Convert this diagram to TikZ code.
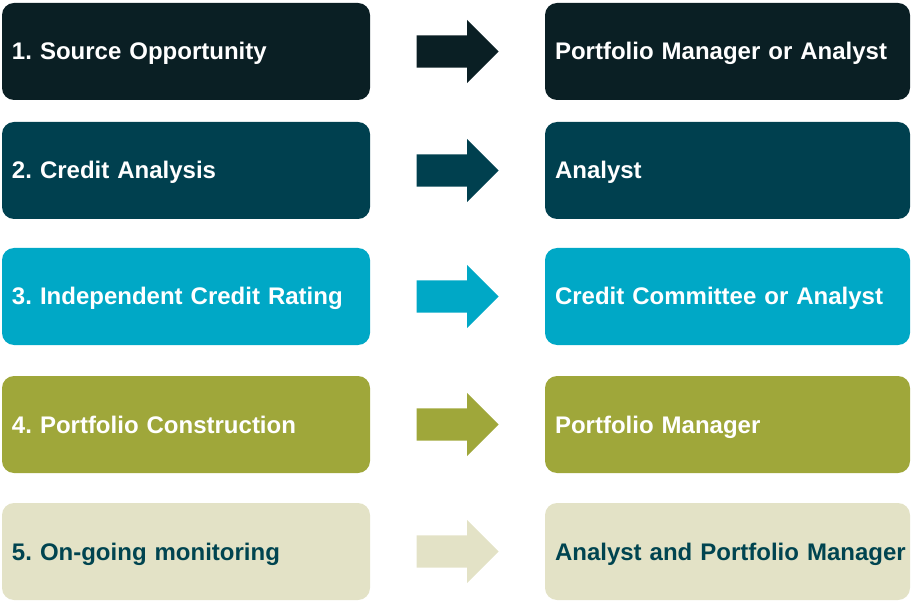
\documentclass[tikz,border=0pt]{standalone}
\usepackage{fontspec}
\setmainfont{Liberation Sans}
\usepackage{tikz}
\usetikzlibrary{shapes.arrows,calc}

\definecolor{rowone}{HTML}{0A1F24}
\definecolor{rowtwo}{HTML}{00404F}
\definecolor{rowthree}{HTML}{00A8C6}
\definecolor{rowfour}{HTML}{9FA73A}
\definecolor{rowfive}{HTML}{E3E2C6}
\definecolor{darkteal}{HTML}{004450}

\begin{document}
\begin{tikzpicture}[x=1pt,y=-1pt]
            \tikzstyle{stage}=[rounded corners=12pt, minimum height=97pt, inner xsep=10pt, inner ysep=0pt,
                text height=17pt, text depth=0pt, align=left, text=white,
                font=\bfseries\fontsize{24}{28}\selectfont\frenchspacing]
            \tikzstyle{task}=[stage, minimum width=368pt, text width=348pt]
            \tikzstyle{owner}=[stage, minimum width=365pt, text width=345pt]
            \tikzstyle{handoff}=[single arrow, single arrow head extend=15.5pt, minimum height=82pt,
                inner xsep=0pt, inner ysep=16pt, anchor=tail, xshift=-41pt]
            \useasboundingbox (0,0) rectangle (912,601);
            % left column: steps
            \node[task, fill=rowone] (source) at (186,51.5) {1. Source Opportunity};
            \node[task, fill=rowtwo] (analysis) at (186,170.5) {2. Credit Analysis};
            \node[task, fill=rowthree] (rating) at (186,296.5) {3. Independent Credit Rating};
            \node[task, fill=rowfour] (construction) at (186,424.5) {4. Portfolio Construction};
            \node[task, fill=rowfive, text=darkteal] (monitoring) at (186,551.5) {5. On-going monitoring};
            % right column: who does it
            \node[owner, fill=rowone] (pmanalyst) at (727.5,51.5) {Portfolio Manager or Analyst};
            \node[owner, fill=rowtwo] (analyst) at (727.5,170.5) {Analyst};
            \node[owner, fill=rowthree] (committee) at (727.5,296.5) {Credit Committee or Analyst};
            \node[owner, fill=rowfour] (pm) at (727.5,424.5) {Portfolio Manager};
            \node[owner, fill=rowfive, text=darkteal] (analystpm) at (727.5,551.5) {\mbox{Analyst and Portfolio Manager}};
            % arrows in between
            \node[handoff, fill=rowone] (a1) at ($(source.east)!0.5!(pmanalyst.west)$) {};
            \node[handoff, fill=rowtwo] (a2) at ($(analysis.east)!0.5!(analyst.west)$) {};
            \node[handoff, fill=rowthree] (a3) at ($(rating.east)!0.5!(committee.west)$) {};
            \node[handoff, fill=rowfour] (a4) at ($(construction.east)!0.5!(pm.west)$) {};
            \node[handoff, fill=rowfive] (a5) at ($(monitoring.east)!0.5!(analystpm.west)$) {};
\end{tikzpicture}
\end{document}
